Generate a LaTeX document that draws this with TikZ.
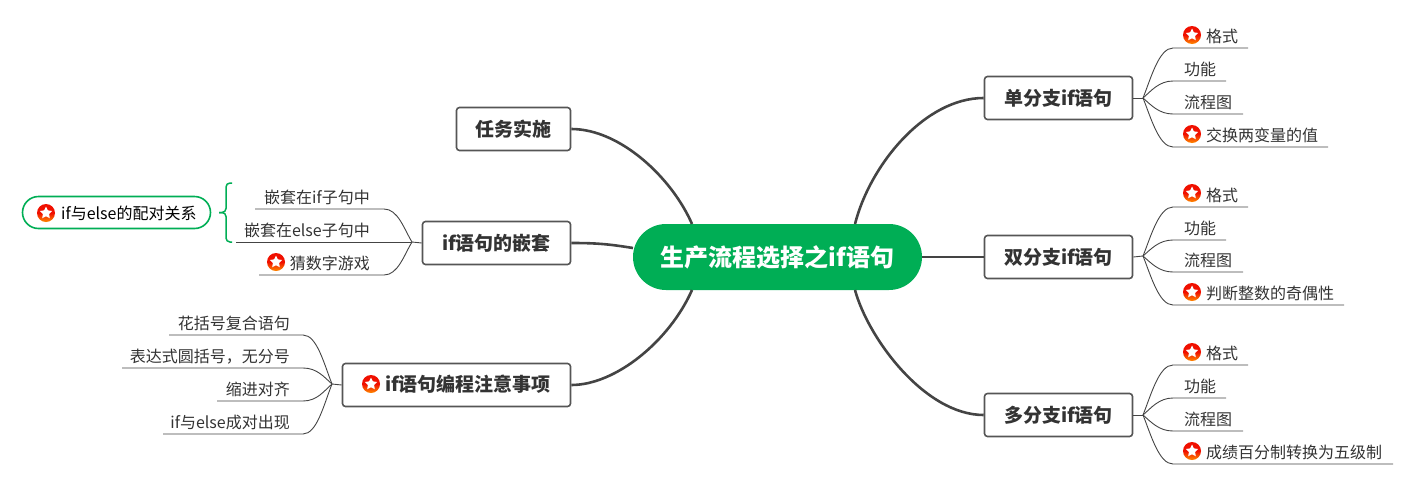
\documentclass[tikz,border=0pt]{standalone}
\usepackage{fontspec}
\setmainfont{Noto Sans CJK SC}
\usetikzlibrary{shapes.geometric}
\definecolor{rootgreen}{HTML}{00AE55}
\definecolor{lineg}{HTML}{444444}
\definecolor{boxg}{HTML}{555555}
\definecolor{txt}{HTML}{333333}
\definecolor{icontop}{HTML}{F01000}
\definecolor{iconbot}{HTML}{FF8A00}
\tikzset{
 topicbox/.style={draw=boxg,line width=1.6pt,rounded corners=3pt,fill=white,inner sep=0pt,font=\fontsize{19}{21}\selectfont\bfseries,text=txt},
 rootbox/.style={fill=rootgreen,rounded corners=33pt,inner sep=0pt,text=white,font=\fontsize{24}{26}\selectfont\bfseries},
 main/.style={draw=lineg,line width=2.6pt},
 leafline/.style={draw=lineg,line width=0.9pt},
 leaftext/.style={inner sep=0pt,text=txt,font=\fontsize{16}{18}\selectfont},
 iconbg/.style={circle,minimum size=18pt,inner sep=0pt,top color=icontop,bottom color=iconbot,middle color=icontop,draw=none},
 iconstar/.style={star,star points=5,star point ratio=2.0,minimum size=13pt,inner sep=0pt,fill=white},
}
% name, junction, y, xend, first-control offset, text x, text
\newcommand\RL[7]{%
 \coordinate (#1s) at (1173,#3);\coordinate (#1e) at (#4,#3);
 \node[leaftext,anchor=base west] (#1) at (#6,#3-6) {#7};
 \draw[leafline] (#2) .. controls +(8,#5) and +(-14,0) .. (#1s) -- (#1e);}
% name, junction, y, xend, first-control offset, join x, text x, text
\newcommand\LL[8]{%
 \coordinate (#1s) at (#6,#3);\coordinate (#1e) at (#4,#3);
 \node[leaftext,anchor=base east] (#1) at (#7,#3-6) {#8};
 \draw[leafline] (#2) .. controls +(-8,#5) and +(14,0) .. (#1s) -- (#1e);}
\newcommand\Ico[3]{\node[iconbg] (#1) at (#2,#3) {};\node[iconstar] (#1st) at (#1) {};}
\begin{document}
\begin{tikzpicture}[x=1pt,y=-1pt]
\useasboundingbox (0,0) rectangle (1413,485);
% root
\node[rootbox,minimum width=289pt,minimum height=66pt] (root) at (777.5,257) {生产流程选择之if语句};
% topics
\node[topicbox,minimum width=114pt,minimum height=43pt] (t1) at (513.5,129) {任务实施};
\node[topicbox,minimum width=148pt,minimum height=43pt] (t2) at (496.5,243) {if语句的嵌套};
\node[topicbox,minimum width=228pt,minimum height=43pt] (t3) at (456.5,385) {};
\node[anchor=base west,inner sep=0pt,text=txt,font=\fontsize{19}{21}\selectfont\bfseries] (t3t) at (385,391) {if语句编程注意事项};
\Ico{i3}{371}{384}
\node[topicbox,minimum width=148pt,minimum height=43pt] (r1) at (1058.5,98) {单分支if语句};
\node[topicbox,minimum width=148pt,minimum height=43pt] (r2) at (1058.5,257) {双分支if语句};
\node[topicbox,minimum width=148pt,minimum height=43pt] (r3) at (1058.5,415) {多分支if语句};
% main connectors
\coordinate (ra) at (692,224);\coordinate (rb) at (633,248);\coordinate (rc) at (692,290);
\coordinate (rd) at (855,224);\coordinate (re) at (855,290);
\draw[main] (t1.east) .. controls +(49,0) and +(-20,-46) .. (ra);
\draw[main] (t2.east) .. controls +(25,0) and +(-25,-4) .. (rb);
\draw[main] (t3.east) .. controls +(45,0) and +(-22,50) .. (rc);
\draw[main] (r1.west) .. controls +(-59,0) and +(15,-59) .. (rd);
\draw[main] (root.east) -- (r2.west);
\draw[main] (r3.west) .. controls +(-59,0) and +(13,48) .. (re);
% junctions
\coordinate (j1) at (1143,98);\coordinate (j2) at (1143,256);\coordinate (j3) at (1143,415);
\coordinate (j4) at (412,242);\coordinate (j5) at (332,384);
\draw[leafline] (r1.east) -- (j1);
\draw[leafline] (r2.east) -- (j2);
\draw[leafline] (r3.east) -- (j3);
\draw[leafline] (t2.west) -- (j4);
\draw[leafline] (t3.west) -- (j5);
% right leaves
\RL{a1}{j1}{48}{1248}{-20}{1206}{格式}\Ico{ia1}{1192}{35}
\RL{a2}{j1}{81}{1226}{-7}{1184}{功能}
\RL{a3}{j1}{114}{1243}{7}{1184}{流程图}
\RL{a4}{j1}{147}{1328}{20}{1206}{交换两变量的值}\Ico{ia4}{1192}{134}
\RL{b1}{j2}{207}{1248}{-20}{1206}{格式}\Ico{ib1}{1192}{193}
\RL{b2}{j2}{240}{1226}{-7}{1184}{功能}
\RL{b3}{j2}{272}{1243}{7}{1184}{流程图}
\RL{b4}{j2}{305}{1344}{20}{1206}{判断整数的奇偶性}\Ico{ib4}{1192}{292}
\RL{c1}{j3}{365}{1248}{-20}{1206}{格式}\Ico{ic1}{1192}{352}
\RL{c2}{j3}{398}{1226}{-7}{1184}{功能}
\RL{c3}{j3}{431}{1243}{7}{1184}{流程图}
\RL{c4}{j3}{464}{1393}{20}{1206}{成绩百分制转换为五级制}\Ico{ic4}{1192}{451}
% left leaves of t2
\LL{d1}{j4}{209}{255}{-13}{384}{370}{嵌套在if子句中}
\coordinate (d2e) at (236,242);
\node[leaftext,anchor=base east] (d2) at (370,236) {嵌套在else子句中};
\draw[leafline] (j4) -- (d2e);
\LL{d3}{j4}{275}{259}{13}{384}{370}{猜数字游戏}\Ico{id3}{276}{262}
% left leaves of t3
\LL{e1}{j5}{335}{169}{-20}{303}{290}{花括号复合语句}
\LL{e2}{j5}{368}{122}{-7}{303}{290}{表达式圆括号，无分号}
\LL{e3}{j5}{401}{217}{7}{303}{290}{缩进对齐}
\LL{e4}{j5}{434}{163}{20}{303}{290}{if与else成对出现}
% callout
\node[draw=rootgreen,line width=1.6pt,rounded corners=16pt,minimum width=188pt,minimum height=32pt,inner sep=0pt] (call) at (116.5,212.5) {};
\node[leaftext,anchor=base west,text=black] (callt) at (61,219) {if与else的配对关系};
\Ico{ic}{46}{213}
\coordinate (bt) at (232,183);\coordinate (bb) at (232,242);\coordinate (bm) at (219,212.5);
\draw[draw=rootgreen,line width=1.5pt,rounded corners=4pt] (bt) -- (226,183) -- (226,212.5) -- (bm);
\draw[draw=rootgreen,line width=1.5pt,rounded corners=4pt] (bb) -- (226,242) -- (226,212.5) -- (bm);
\end{tikzpicture}
\end{document}
